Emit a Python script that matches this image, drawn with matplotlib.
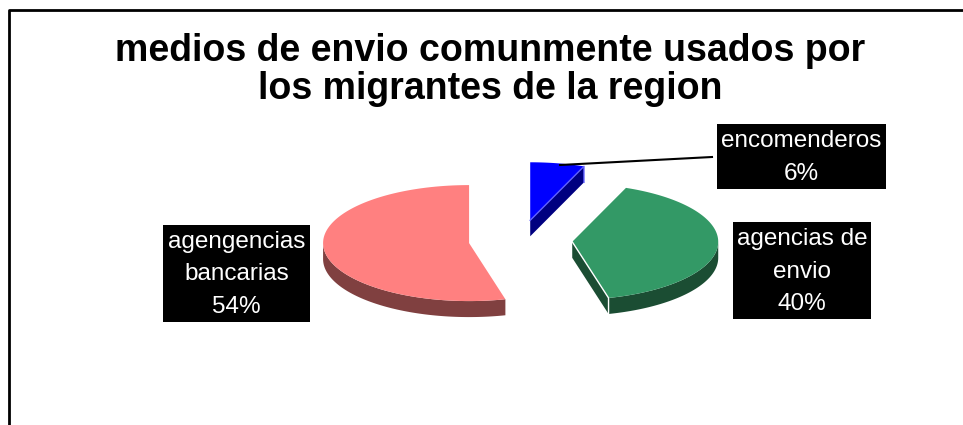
import numpy as np
import matplotlib
matplotlib.use('Agg')
import matplotlib.pyplot as plt
from matplotlib.patches import Polygon, Rectangle

plt.rcParams['font.family'] = ['Liberation Sans', 'DejaVu Sans']

# data
labels = ['agengencias\nbancarias', 'agencias de\nenvio', 'encomenderos']
values = [54, 40, 6]
top_colors = ['#FF8080', '#339966', '#0000FF']
side_colors = ['#804040', '#1B4D33', '#000080']
title = 'medios de envio comunmente usados por\nlos migrantes de la region'

# pie geometry in pixel space (y grows downwards)
CX, CY = 520.5, 240.5
RX, RY = 146, 58
DEPTH = 16
EXPLODE = 0.355
START = 90.0

# label boxes: (x0, y0, x1, y1)
boxes = [(163, 225, 310, 322), (733, 222, 871, 319), (717, 124, 886, 189)]

fig = plt.figure(figsize=(9.63, 4.25), dpi=100)
ax = fig.add_axes([0, 0, 1, 1])
ax.set_xlim(0, 963)
ax.set_ylim(425, 0)
ax.axis('off')

# outer frame (cut off at right and bottom)
ax.plot([9, 9, 970], [430, 10, 10], color='black', lw=2, solid_capstyle='butt')


def rim(ox, oy, t, dz=0):
    r = np.radians(t)
    return np.column_stack([ox + RX * np.cos(r), oy - RY * np.sin(r) + dz])


def front_parts(a0, a1):
    parts = []
    for k in range(-1, 3):
        lo, hi = 180 + 360 * k, 360 + 360 * k
        s, e = max(a0, lo), min(a1, hi)
        if e > s:
            parts.append((s, e))
    return parts


total = float(sum(values))
a0 = START
slices = []
for v in values:
    a1 = a0 + 360 * v / total
    slices.append((a0, a1))
    a0 = a1

for i, (a0, a1) in enumerate(slices):
    mid = np.radians((a0 + a1) / 2)
    ox = CX + EXPLODE * RX * np.cos(mid)
    oy = CY - EXPLODE * RY * np.sin(mid)

    # radial faces that face the viewer
    for ang, vis in ((a0, np.cos(np.radians(a0)) > 1e-6),
                     (a1, np.cos(np.radians(a1)) < -1e-6)):
        if vis:
            p = rim(ox, oy, np.array([ang]))[0]
            face = [(ox, oy), tuple(p), (p[0], p[1] + DEPTH), (ox, oy + DEPTH)]
            ax.add_patch(Polygon(face, closed=True, fc=side_colors[i], ec='none'))
            edge = 'white' if i == 1 else '#6060FF'
            ax.plot([ox, p[0], p[0]], [oy, p[1], p[1] + DEPTH], color=edge, lw=1)

    # outer wall on the front half
    for s, e in front_parts(a0, a1):
        t = np.linspace(s, e, 80)
        upper = rim(ox, oy, t)
        lower = rim(ox, oy, t[::-1], DEPTH)
        ax.add_patch(Polygon(np.vstack([upper, lower]), closed=True,
                             fc=side_colors[i], ec='none'))

    # top surface
    t = np.linspace(a0, a1, 120)
    pts = np.vstack([[ox, oy], rim(ox, oy, t)])
    ax.add_patch(Polygon(pts, closed=True, fc=top_colors[i], ec='none'))

# data labels
for i, (x0, y0, x1, y1) in enumerate(boxes):
    ax.add_patch(Rectangle((x0, y0), x1 - x0, y1 - y0, fc='black', ec='none'))
    txt = '%s\n%d%%' % (labels[i], values[i])
    ax.text((x0 + x1) / 2, (y0 + y1) / 2 + 1, txt, color='white', fontsize=17.5,
            ha='center', va='center', multialignment='center', linespacing=1.6)

# leader line for the small slice
ax.plot([560, 712], [165, 157], color='black', lw=1.5)

ax.text(490, 70, title, fontsize=27, fontweight='bold', ha='center', va='center',
        multialignment='center', linespacing=1.05)

fig.savefig('out.png', dpi=100)
